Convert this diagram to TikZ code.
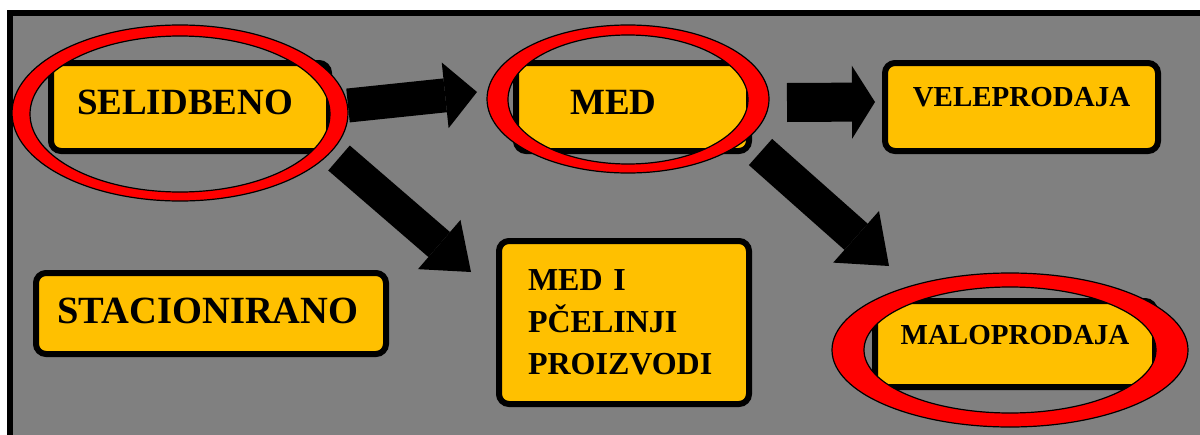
\documentclass[tikz,border=0pt]{standalone}
\usepackage{fontspec}
\setmainfont{Liberation Serif}
\usetikzlibrary{arrows.meta}
\definecolor{fondo}{HTML}{808080}
\definecolor{amarillo}{HTML}{FFC000}
\definecolor{rojo}{HTML}{FF0000}
\tikzset{
  caja/.style={draw=black, line width=6pt, fill=amarillo, rounded corners=10pt, inner sep=0pt},
  anillo/.style={fill=rojo, draw=black, line width=1.2pt, even odd rule},
}
\begin{document}
\begin{tikzpicture}[x=1pt, y=-1pt]
	\useasboundingbox (0,0) rectangle (1200,434);
	\clip (0,0) rectangle (1200,434);

	% Fondo gris con marco
	\draw[fill=fondo, line width=6pt] (10,13) rectangle (1220,450);

	% Cajas
	\node[caja, minimum width=278pt, minimum height=88pt, text height=24pt, text depth=10pt, font=\bfseries\fontsize{37}{40}\selectfont] (S) at (190,107) {SELIDBENO\kern10pt};
	\node[caja, minimum width=233pt, minimum height=88pt, text height=24pt, text depth=10pt, font=\bfseries\fontsize{37}{40}\selectfont] (M) at (632.5,107) {MED\kern38pt};
	\node[caja, minimum width=273pt, minimum height=88pt, text height=19pt, text depth=20pt, font=\bfseries\fontsize{29}{32}\selectfont] (V) at (1021.5,107) {VELEPRODAJA};
	\node[caja, minimum width=350pt, minimum height=81pt, text height=25pt, text depth=5pt, font=\bfseries\fontsize{38.5}{42}\selectfont] (St) at (211,313.5) {STACIONIRANO\kern6pt};
	\node[caja, minimum width=250pt, minimum height=163pt, align=left, text width=192pt, font=\bfseries\fontsize{32}{42}\selectfont] (MP) at (624,322.5) {MED I\\PČELINJI\\PROIZVODI};
	\node[caja, minimum width=280pt, minimum height=86pt, text height=19pt, text depth=18pt, font=\bfseries\fontsize{29}{32}\selectfont] (Ma) at (1015,344) {MALOPRODAJA};

	% Puntos de las flechas
	\coordinate (s1) at (348,105.5); \coordinate (t1) at (477,92);
	\coordinate (s2) at (787,102.5); \coordinate (t2) at (875,102);
	\coordinate (s3) at (339,158);   \coordinate (t3) at (471,272);
	\coordinate (s4) at (760.5,152); \coordinate (t4) at (889,266);

	% Flechas
	\foreach \from/\to/\sw/\hw/\hl in {s1/t1/34/66/32, s2/t2/39/73/23, s3/t3/33/65/42, s4/t4/35/69/44}
	\draw[line width=\sw pt, -{Triangle[length=\hl pt, width=\hw pt, line width=0pt]}] (\from) -- (\to);

	% Anillos rojos
	\path[anillo] (180,113) ellipse (168pt and 88pt) (180,114) ellipse (150pt and 78pt);
	\path[anillo] (628,99) ellipse (141pt and 74pt) (628,99.5) ellipse (120pt and 64.5pt);
	\path[anillo] (1010,350) ellipse (178pt and 77pt) (1010,350) ellipse (146pt and 63pt);

\end{tikzpicture}
\end{document}
